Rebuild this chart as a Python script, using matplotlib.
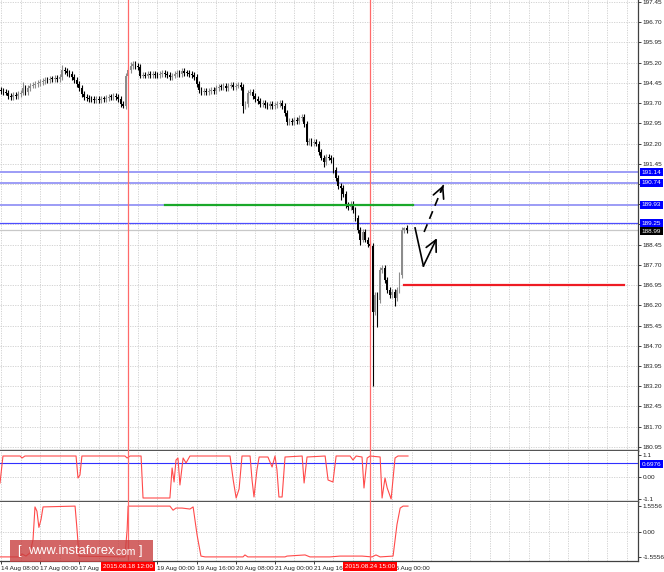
#!/usr/bin/env python3
import numpy as np
import matplotlib
matplotlib.use('Agg')
import matplotlib.pyplot as plt
from matplotlib.patches import Rectangle
from matplotlib.transforms import blended_transform_factory

plt.rcParams['font.family'] = ['Liberation Sans', 'DejaVu Sans']

# hourly closes, bar 0 = 14 Aug 08:00
closes = [
    194.15, 194.11, 194.08, 193.96, 193.93, 194.00, 193.96, 194.04, 194.08, 194.26,
    194.11, 194.26, 194.34, 194.37, 194.41, 194.45, 194.48, 194.52, 194.56, 194.56,
    194.59, 194.59, 194.63, 194.59, 194.67, 194.93, 194.89, 194.82, 194.78, 194.67,
    194.56, 194.41, 194.26, 194.04, 193.93, 193.89, 193.85, 193.85, 193.82, 193.85,
    193.82, 193.85, 193.85, 193.89, 193.93, 193.93, 193.96, 193.93, 193.85, 193.67,
    193.59, 194.71, 194.93, 195.08, 195.15, 195.08, 195.04, 194.71, 194.74, 194.71,
    194.78, 194.74, 194.78, 194.74, 194.74, 194.78, 194.82, 194.78, 194.74, 194.67,
    194.71, 194.78, 194.82, 194.78, 194.89, 194.82, 194.82, 194.78, 194.74, 194.67,
    194.41, 194.19, 194.11, 194.15, 194.11, 194.15, 194.19, 194.15, 194.26, 194.30,
    194.30, 194.34, 194.26, 194.34, 194.37, 194.30, 194.34, 194.37, 194.30, 193.59,
    193.67, 194.08, 194.11, 193.96, 193.85, 193.78, 193.67, 193.71, 193.63, 193.59,
    193.67, 193.59, 193.63, 193.67, 193.71, 193.59, 193.33, 193.00, 193.04, 193.00,
    193.07, 193.04, 193.15, 193.19, 192.93, 192.26, 192.30, 192.22, 192.26, 192.19,
    191.89, 191.67, 191.52, 191.70, 191.67, 191.59, 191.22, 190.92, 190.63, 190.55,
    190.33, 189.92, 189.85, 189.96, 189.74, 189.44, 189.00, 188.63, 188.92, 188.63,
    188.48, 188.40, 185.96, 186.59, 186.40, 187.51, 187.59, 187.14, 186.77, 186.59,
    186.70, 186.47, 186.77, 187.32, 189.00, 189.07, 188.99,
]
# long wicks
spike_hi_bars = [9, 25, 53, 165]
spike_hi = [194.48, 195.11, 195.22, 189.11]
spike_lo_bars = [50, 99, 132, 139, 147, 152, 154, 161]
spike_lo = [193.52, 193.33, 191.33, 190.11, 188.44, 183.21, 185.40, 186.18]

levels = [191.14, 190.74, 189.93]
level_blue = 189.25
last_price = 188.99
green_level, green_from, green_to = 189.93, 67, 168.5
red_level, red_from, red_to = 186.95, 165, 255
event_bars = [52, 151]
event_labels = ['2015.08.18 12:00', '2015.08.24 15:00']

# drawn arrows (bar, price)
zig_x = [169.4, 172.8, 178.3]
zig_y = [189.07, 187.66, 188.69]
dash_x = [173.1, 181.0]
dash_y = [188.92, 190.66]

# indicator 1 (upper), vertices
ind1_bars = [-0.4, 0.8, 7.8, 8.6, 9.8, 30.7, 31.5, 32.3, 33.1, 50.7, 51.6, 52.8, 57.3, 58.1,
             69.1, 70.0, 70.8, 71.6, 72.4, 73.2, 74.5, 75.7, 77.3, 93.7, 95.0, 96.2, 97.4,
             98.6, 101.9, 102.7, 103.5, 104.7, 105.6, 109.2, 110.9, 112.1, 112.9, 113.7,
             115.0, 116.2, 123.2, 124.0, 125.2, 132.6, 133.8, 135.8, 137.1, 142.8, 144.0,
             145.3, 147.7, 148.5, 149.8, 151.0, 155.1, 155.9, 157.1, 158.0, 159.6, 161.2,
             162.4, 166.5]
ind1_vals = [-0.3, 1.05, 1.05, 0.95, 1.05, 1.05, -0.05, 0.1, 1.05, 1.05, 0.95, 1.05, 1.05, -1.05,
             -1.05, 0.45, -0.25, 0.85, 0.95, -0.4, 0.95, 0.7, 1.05, 1.05, -0.15, -1.05, -0.6,
             1.05, 1.05, -0.15, -1.0, 0.35, 1.0, 1.0, 0.5, 1.05, 0.35, -1.0,
             -1.0, 1.0, 1.05, -0.3, 1.0, 1.05, -0.15, -0.25, 1.05, 1.05, 0.85,
             1.05, 1.0, -0.55, 0.95, 1.05, 1.0, -1.05, -0.05, -0.55, -1.1, 0.95,
             1.05, 1.05]
ind1_level = 0.6976
ind1_ticks = [1.1, 0.0, -1.1]
ind1_ticklabels = ['1.1', '0.00', '-1.1']

# indicator 2 (lower), vertices
ind2_bars = [-0.4, 7.8, 8.6, 10.2, 11.9, 13.1, 13.9, 14.7, 15.5, 16.4, 17.2, 30.3, 31.1, 31.9,
             50.7, 51.6, 52.0, 69.1, 70.4, 71.6, 74.1, 77.3, 78.6, 80.2, 81.8, 83.5, 99.0,
             99.8, 101.0, 116.2, 117.0, 124.4, 126.4, 134.6, 138.7, 147.7, 151.8, 153.4,
             155.1, 160.4, 162.0, 163.3, 164.5, 166.5]
ind2_vals = [-1.55, -1.55, -1.37, -1.5, -1.3, -0.5, 1.5, 1.24, 0.25, 0.75, 1.5, 1.55, 0.12, -1.5,
             -1.55, 0.12, 1.55, 1.55, 1.3, 1.43, 1.43, 1.37, 1.5, -0.2, -1.5, -1.55, -1.55,
             -1.43, -1.55, -1.55, -1.5, -1.43, -1.55, -1.55, -1.5, -1.5, -1.55, -1.43,
             -1.55, -1.5, 0.43, 1.43, 1.55, 1.55]
ind2_ticks = [1.5556, 0.0, -1.5556]
ind2_ticklabels = ['1.5556', '0.00', '-1.5556']

# time scale (labels under the red event boxes are hidden in the terminal)
xlabel_bars = [0, 16, 32, 64, 80, 96, 112, 128, 160]
xlabels = ['14 Aug 08:00', '17 Aug 00:00', '17 Aug 16:00', '19 Aug 00:00',
           '19 Aug 16:00', '20 Aug 08:00', '21 Aug 00:00', '21 Aug 16:00', '25 Aug 00:00']
price_ticks = np.round(np.arange(180.95, 197.46, 0.75), 2)

W, H = 664.0, 572.0
FS = 4.6
grid_kw = dict(color='#c8c8c8', lw=0.55, ls=(0, (1.6, 1.6)), zorder=0)

fig = plt.figure(figsize=(W / 100, H / 100), dpi=100)


def rect(top, bottom):
    return [0, 1 - bottom / H, 638 / W, (bottom - top) / H]


ax = fig.add_axes(rect(0, 451))
ax1 = fig.add_axes(rect(451, 502))
ax2 = fig.add_axes(rect(502, 561))
xlim = (-0.41, 260.6)
for a in (ax, ax1, ax2):
    a.set_xlim(*xlim)
    for b in range(0, 264, 8):
        a.axvline(b, **grid_kw)
    for b in event_bars:
        a.axvline(b, color='#ff6a6a', lw=0.9, zorder=4)
    a.spines['left'].set_visible(False)
    a.spines['top'].set_visible(False)
    a.spines['right'].set_color('#404040')
    a.spines['right'].set_linewidth(0.9)
    a.yaxis.tick_right()
    a.tick_params(axis='y', labelsize=FS, length=2, width=0.6, pad=1.5, colors='#202020')
    a.tick_params(axis='x', bottom=False, labelbottom=False)
for a in (ax, ax1):
    a.spines['bottom'].set_color('#555555')
    a.spines['bottom'].set_linewidth(1.7)
ax2.spines['bottom'].set_color('#404040')
ax2.spines['bottom'].set_linewidth(0.9)

# ---- main price panel
ax.set_ylim(180.80, 197.52)
boxed = levels + [level_blue, last_price]
tick_text = ['' if min(abs(t - b) for b in boxed) < 0.1 else '%.2f' % t for t in price_ticks]
ax.set_yticks(price_ticks, tick_text)
for t in price_ticks:
    ax.axhline(t, **grid_kw)

c = np.array(closes)
n = len(c)
idx = np.arange(n)
o = np.concatenate([[c[0] + 0.04], c[:-1]])
hi = np.maximum(o, c) + 0.1
lo = np.minimum(o, c) - 0.1
hi[spike_hi_bars] = spike_hi
lo[spike_lo_bars] = spike_lo
col = np.where(c > o, '#8c8c8c', '#000000')
ax.vlines(idx, lo, hi, colors=col, lw=0.8, zorder=3)
body = np.maximum(np.abs(c - o), 0.03)
ax.bar(idx, body, bottom=np.minimum(o, c), width=0.7, color=col, zorder=3)

for lv in levels:
    ax.axhline(lv, color='#9c9cf6', lw=1.4, zorder=2)
ax.axhline(level_blue, color='#4d4dff', lw=0.9, zorder=2)
ax.axhline(last_price, color='#c8c8c8', lw=0.9, zorder=1)
ax.plot([green_from, green_to], [green_level] * 2, color='#1aa82a', lw=1.6, zorder=5)
ax.plot([red_from, red_to], [red_level] * 2, color='#ee1c24', lw=1.6, zorder=5)

# hand drawn arrows
ax.plot(zig_x[:2], zig_y[:2], color='black', lw=1.2, zorder=6)
ax.annotate('', xy=(zig_x[2], zig_y[2]), xytext=(zig_x[1], zig_y[1]), zorder=6,
            arrowprops=dict(arrowstyle='->,head_length=0.8,head_width=0.4', color='black',
                            lw=1.2, shrinkA=0, shrinkB=0))
ax.plot(dash_x, dash_y, color='black', lw=1.2, ls=(0, (5, 3.5)), zorder=6)
tip_from = (dash_x[1] - 0.15 * (dash_x[1] - dash_x[0]), dash_y[1] - 0.15 * (dash_y[1] - dash_y[0]))
ax.annotate('', xy=(dash_x[1], dash_y[1]), xytext=tip_from, zorder=6,
            arrowprops=dict(arrowstyle='->,head_length=0.8,head_width=0.4', color='black',
                            lw=1.2, shrinkA=0, shrinkB=0))

tr = blended_transform_factory(ax.transAxes, ax.transData)
for lv in levels + [level_blue]:
    ax.text(1.006, lv, '%.2f' % lv, transform=tr, fontsize=FS, color='white', va='center',
            ha='left', clip_on=False, zorder=10,
            bbox=dict(boxstyle='square,pad=0.25', fc='#0000ff', ec='none'))
ax.text(1.006, last_price - 0.04, '%.2f' % last_price, transform=tr, fontsize=FS, color='white',
        va='center', ha='left', clip_on=False, zorder=11,
        bbox=dict(boxstyle='square,pad=0.25', fc='#000000', ec='none'))

# ---- indicator 1
ax1.set_ylim(-1.25, 1.3)
ax1.set_yticks(ind1_ticks, ind1_ticklabels)
ax1.axhline(0, **grid_kw)
ax1.plot(ind1_bars, ind1_vals, color='#ff4a4a', lw=0.8, zorder=3)
ax1.axhline(ind1_level, color='#3030ff', lw=0.8, zorder=2)
tr1 = blended_transform_factory(ax1.transAxes, ax1.transData)
ax1.text(1.006, ind1_level - 0.05, '%.4f' % ind1_level, transform=tr1, fontsize=FS, color='white',
         va='center', ha='left', clip_on=False, zorder=10,
         bbox=dict(boxstyle='square,pad=0.25', fc='#0000ff', ec='none'))

# ---- indicator 2
ax2.set_ylim(-1.8, 1.8)
ax2.set_yticks(ind2_ticks, ind2_ticklabels)
ax2.axhline(0, **grid_kw)
ax2.plot(ind2_bars, ind2_vals, color='#ff4a4a', lw=0.8, zorder=3)
ax2.set_xticks(xlabel_bars, xlabels, ha='left')
ax2.tick_params(axis='x', bottom=True, labelbottom=True, labelsize=FS, length=2, width=0.6,
                pad=1.5, colors='#202020')

# event time boxes on the time scale
for b, s in zip(event_bars, event_labels):
    xf = (1 + 2.444 * b) / W
    fig.text(xf, 1 - 566.5 / H, s, fontsize=FS, color='white', ha='center', va='center',
             bbox=dict(boxstyle='square,pad=0.3', fc='#ff0000', ec='none'), zorder=20)

# watermark
yc = 1 - 551 / H
fig.patches.append(Rectangle((10 / W, 1 - 562 / H), 143 / W, 22 / H, transform=fig.transFigure,
                             fc='#c84040', ec='none', alpha=0.8, zorder=15))
fig.text(17 / W, yc, '[', fontsize=9, color='white', ha='left', va='center', zorder=16)
fig.text(28 / W, yc, 'www.instaforex', fontsize=9.3, color='white', ha='left', va='center',
         zorder=16)
fig.text(113 / W, yc - 0.002, '.com', fontsize=7.5, color='white', ha='left', va='center',
         zorder=16)
fig.text(139 / W, yc, ']', fontsize=9, color='white', ha='left', va='center', zorder=16)

fig.savefig('out.png', dpi=100)
